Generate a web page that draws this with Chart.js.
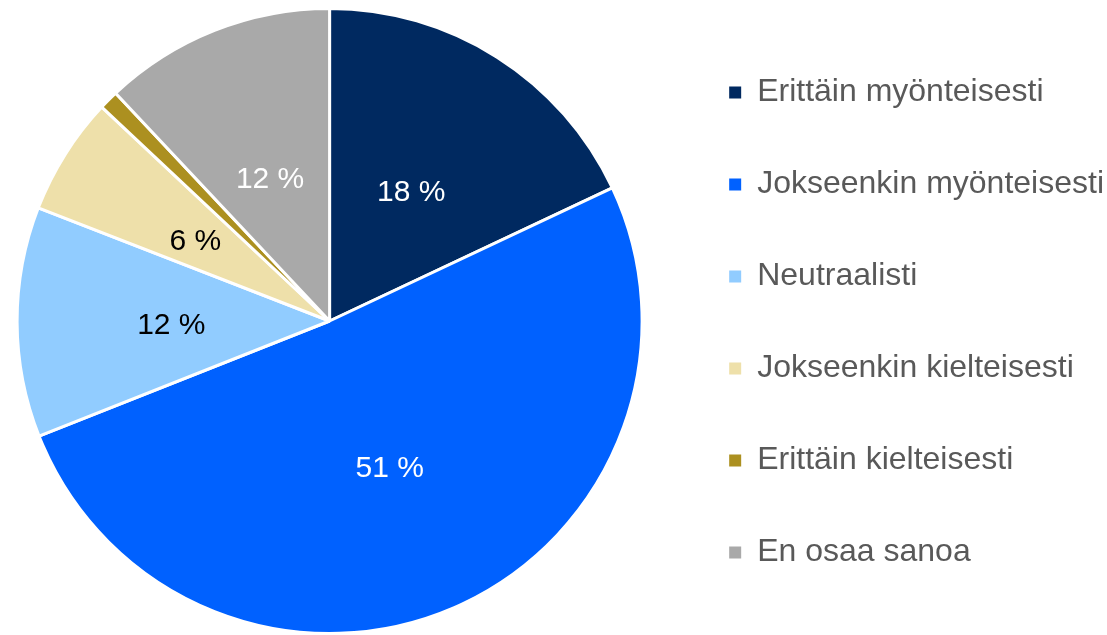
<!DOCTYPE html>
<html>
<head>
<meta charset="utf-8">
<script src="https://cdn.jsdelivr.net/npm/chart.js@4"></script>
<style>
  html, body { margin: 0; padding: 0; background: #fff; }
  #wrap { width: 1107px; height: 635px; }
</style>
</head>
<body>
<div id="wrap"><canvas id="chart"></canvas></div>
<script>
const categories = [
    'Erittäin myönteisesti',
    'Jokseenkin myönteisesti',
    'Neutraalisti',
    'Jokseenkin kielteisesti',
    'Erittäin kielteisesti',
    'En osaa sanoa'
];
const values = [18, 51, 11.9, 6.1, 1, 12];
const shownLabels = ['18 %', '51 %', '12 %', '6 %', '', '12 %'];
const sliceColors = ['#002960', '#0061FF', '#91CCFF', '#EEE0AA', '#AC9020', '#A9A9A9'];
const labelColors = ['#FFFFFF', '#FFFFFF', '#000000', '#000000', '#000000', '#FFFFFF'];

// draws the percent labels in the middle of each slice
const sliceLabels = {
    id: 'sliceLabels',
    afterDatasetsDraw(chart) {
        const ctx = chart.ctx;
        const meta = chart.getDatasetMeta(0);
        ctx.save();
        ctx.font = '30px "Liberation Sans", Arial, sans-serif';
        ctx.textAlign = 'center';
        ctx.textBaseline = 'middle';
        meta.data.forEach((arc, i) => {
            if (!shownLabels[i]) return;
            const p = arc.tooltipPosition();
            ctx.fillStyle = labelColors[i];
            ctx.fillText(shownLabels[i], p.x - 2, p.y + 4);
        });
        ctx.restore();
    }
};

// the pie sits a bit left of the plain chart area centre
const shiftPie = {
    id: 'shiftPie',
    afterLayout(chart) {
        chart.chartArea.left -= 10;
        chart.chartArea.width += 10;
    }
};

const ctx = document.getElementById('chart');

new Chart(ctx, {
    type: 'pie',
    data: {
        labels: categories,
        datasets: [{
            data: values,
            backgroundColor: sliceColors,
            borderColor: '#FFFFFF',
            borderWidth: 3
        }]
    },
    options: {
        responsive: true,
        maintainAspectRatio: false,
        animation: false,
        layout: {
            padding: { top: 7, bottom: -3, left: 0, right: -7 }
        },
        plugins: {
            tooltip: { enabled: false },
            legend: {
                position: 'right',
                labels: {
                    color: '#595959',
                    boxWidth: 12,
                    boxHeight: 12,
                    padding: 60,
                    font: {
                        size: 32,
                        family: '"Liberation Sans", Arial, sans-serif'
                    },
                    generateLabels(chart) {
                        return categories.map((c, i) => ({
                            text: c,
                            fillStyle: sliceColors[i],
                            strokeStyle: sliceColors[i],
                            lineWidth: 0,
                            fontColor: '#595959',
                            index: i,
                            hidden: false
                        }));
                    }
                }
            }
        }
    },
    plugins: [sliceLabels, shiftPie]
});
</script>
</body>
</html>
